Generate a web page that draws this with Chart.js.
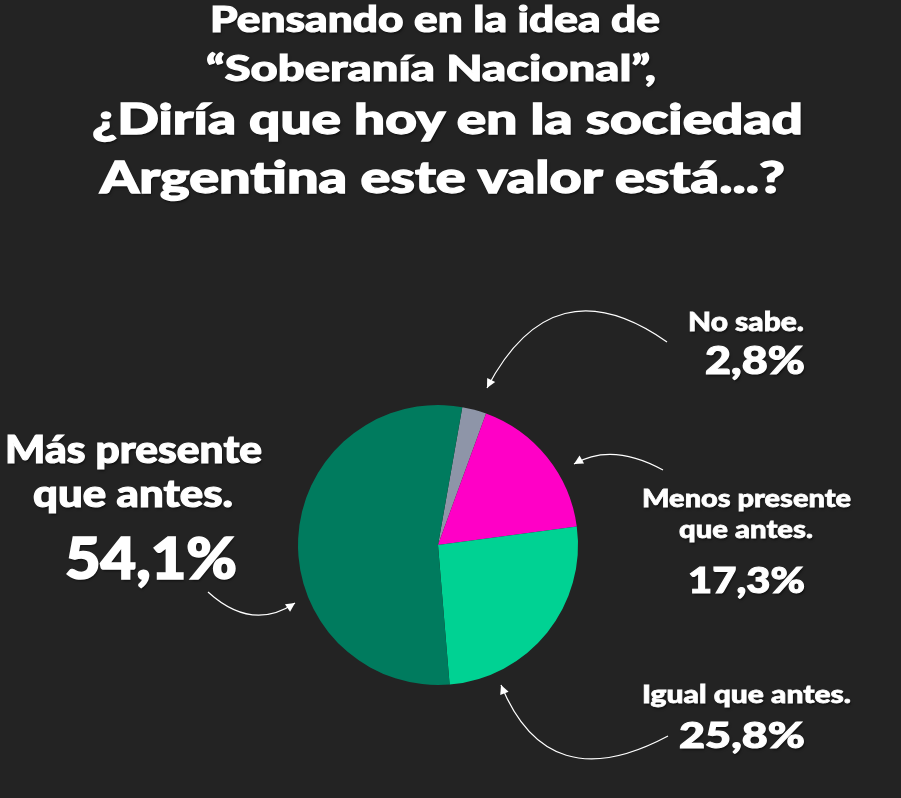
<!DOCTYPE html>
<html>
<head>
<meta charset="utf-8">
<script src="https://cdn.jsdelivr.net/npm/chart.js@4"></script>
<style>
  html,body{margin:0;padding:0;background:#232323;}
  #wrap{position:relative;width:901px;height:798px;overflow:hidden;font-family:'Lato',sans-serif;color:#fff;}
  #wrap canvas{position:absolute;left:0;top:0;}
  .t{position:absolute;font-weight:900;white-space:nowrap;line-height:1;transform-origin:0 0;
     -webkit-text-stroke-color:#fff;text-shadow:1px 2px 2px rgba(0,0,0,0.55);}
  .mk{display:inline-block;width:0;height:0;vertical-align:baseline;}
</style>
</head>
<body>
<div id="wrap">
  <canvas id="pie" width="901" height="798"></canvas>
</div>
<script>
const TITLE = ['Pensando en la idea de', '“Soberanía Nacional”,', '¿Diría que hoy en la sociedad', 'Argentina este valor está...?']
const LABELS = [['No sabe.'], ['Menos presente', 'que antes.'], ['Igual que antes.'], ['Más presente', 'que antes.']]
const VALUES = [2.8, 17.3, 25.8, 54.1]
const COLORS = ['#8e95a8', '#ff00c6', '#00d293', '#007b5e']

const pct = v => v.toFixed(1).replace('.', ',') + '%'

// text boxes: text, left, right, baseline, cap height
const TEXTS = [
  [TITLE[0], 210, 660, 32, 26],
  [TITLE[1], 206, 656, 81, 26],
  [TITLE[2], 92, 803, 134, 30],
  [TITLE[3], 100, 785, 193, 31],

  [LABELS[3][0], 5, 262, 463, 27],
  [LABELS[3][1], 33, 233, 507, 27],
  [pct(VALUES[3]), 65, 237, 579, 41],

  [LABELS[0][0], 688, 804, 331, 19],
  [pct(VALUES[0]), 705, 805, 374, 27],

  [LABELS[1][0], 642, 851, 507, 18],
  [LABELS[1][1], 679, 813, 538, 18],
  [pct(VALUES[1]), 688, 805, 593, 26],

  [LABELS[2][0], 642, 851, 703, 18],
  [pct(VALUES[2]), 679, 805, 748, 26],
]

const wrap = document.getElementById('wrap')
TEXTS.forEach(([txt, l, r, b, cap]) => {
  const d = document.createElement('div')
  d.className = 't'
  const fs = cap / 0.7165
  d.style.fontSize = fs + 'px'
  d.style.webkitTextStroke = (fs * 0.03) + 'px #fff'
  d.style.left = l + 'px'
  d.style.top = '0px'
  const mk = document.createElement('span'); mk.className = 'mk'
  const s = document.createElement('span'); s.textContent = txt
  d.appendChild(mk); d.appendChild(s)
  wrap.appendChild(d)
  const base = mk.getBoundingClientRect().bottom - d.getBoundingClientRect().top
  const w = s.getBoundingClientRect().width
  d.style.top = (b - base) + 'px'
  d.style.transform = 'scaleX(' + ((r - l) / w) + ')'
})

// curved callout arrows: start, control, end
const ARROWS = [
  [[667,342],[553,262],[487,388]],
  [[663,470],[612,442],[574,464]],
  [[208,592],[252,632],[295,603]],
  [[668,736],[548,800],[501,685]],
]

const arrowPlugin = {
  id:'arrows',
  afterDraw(chart){
    const c = chart.ctx
    c.save()
    c.strokeStyle = '#fff'; c.fillStyle = '#fff'; c.lineWidth = 1.2
    ARROWS.forEach(([p0,cp,p1])=>{
      c.beginPath()
      c.moveTo(p0[0],p0[1])
      c.quadraticCurveTo(cp[0],cp[1],p1[0],p1[1])
      c.stroke()
      const a = Math.atan2(p1[1]-cp[1], p1[0]-cp[0])
      const L = 9, W = 4.5
      c.beginPath()
      c.moveTo(p1[0],p1[1])
      c.lineTo(p1[0]-L*Math.cos(a)+W*Math.sin(a), p1[1]-L*Math.sin(a)-W*Math.cos(a))
      c.lineTo(p1[0]-L*Math.cos(a)-W*Math.sin(a), p1[1]-L*Math.sin(a)+W*Math.cos(a))
      c.closePath(); c.fill()
    })
    c.restore()
  }
}

new Chart(document.getElementById('pie'),{
  type:'pie',
  data:{labels:LABELS.map(l=>l.join(' ')),datasets:[{data:VALUES,backgroundColor:COLORS,borderWidth:0}]},
  options:{
    responsive:false, animation:false, rotation:10,
    layout:{padding:{left:298,right:323,top:405,bottom:113}},
    plugins:{legend:{display:false},tooltip:{enabled:false}}
  },
  plugins:[arrowPlugin]
})
</script>
</body>
</html>
